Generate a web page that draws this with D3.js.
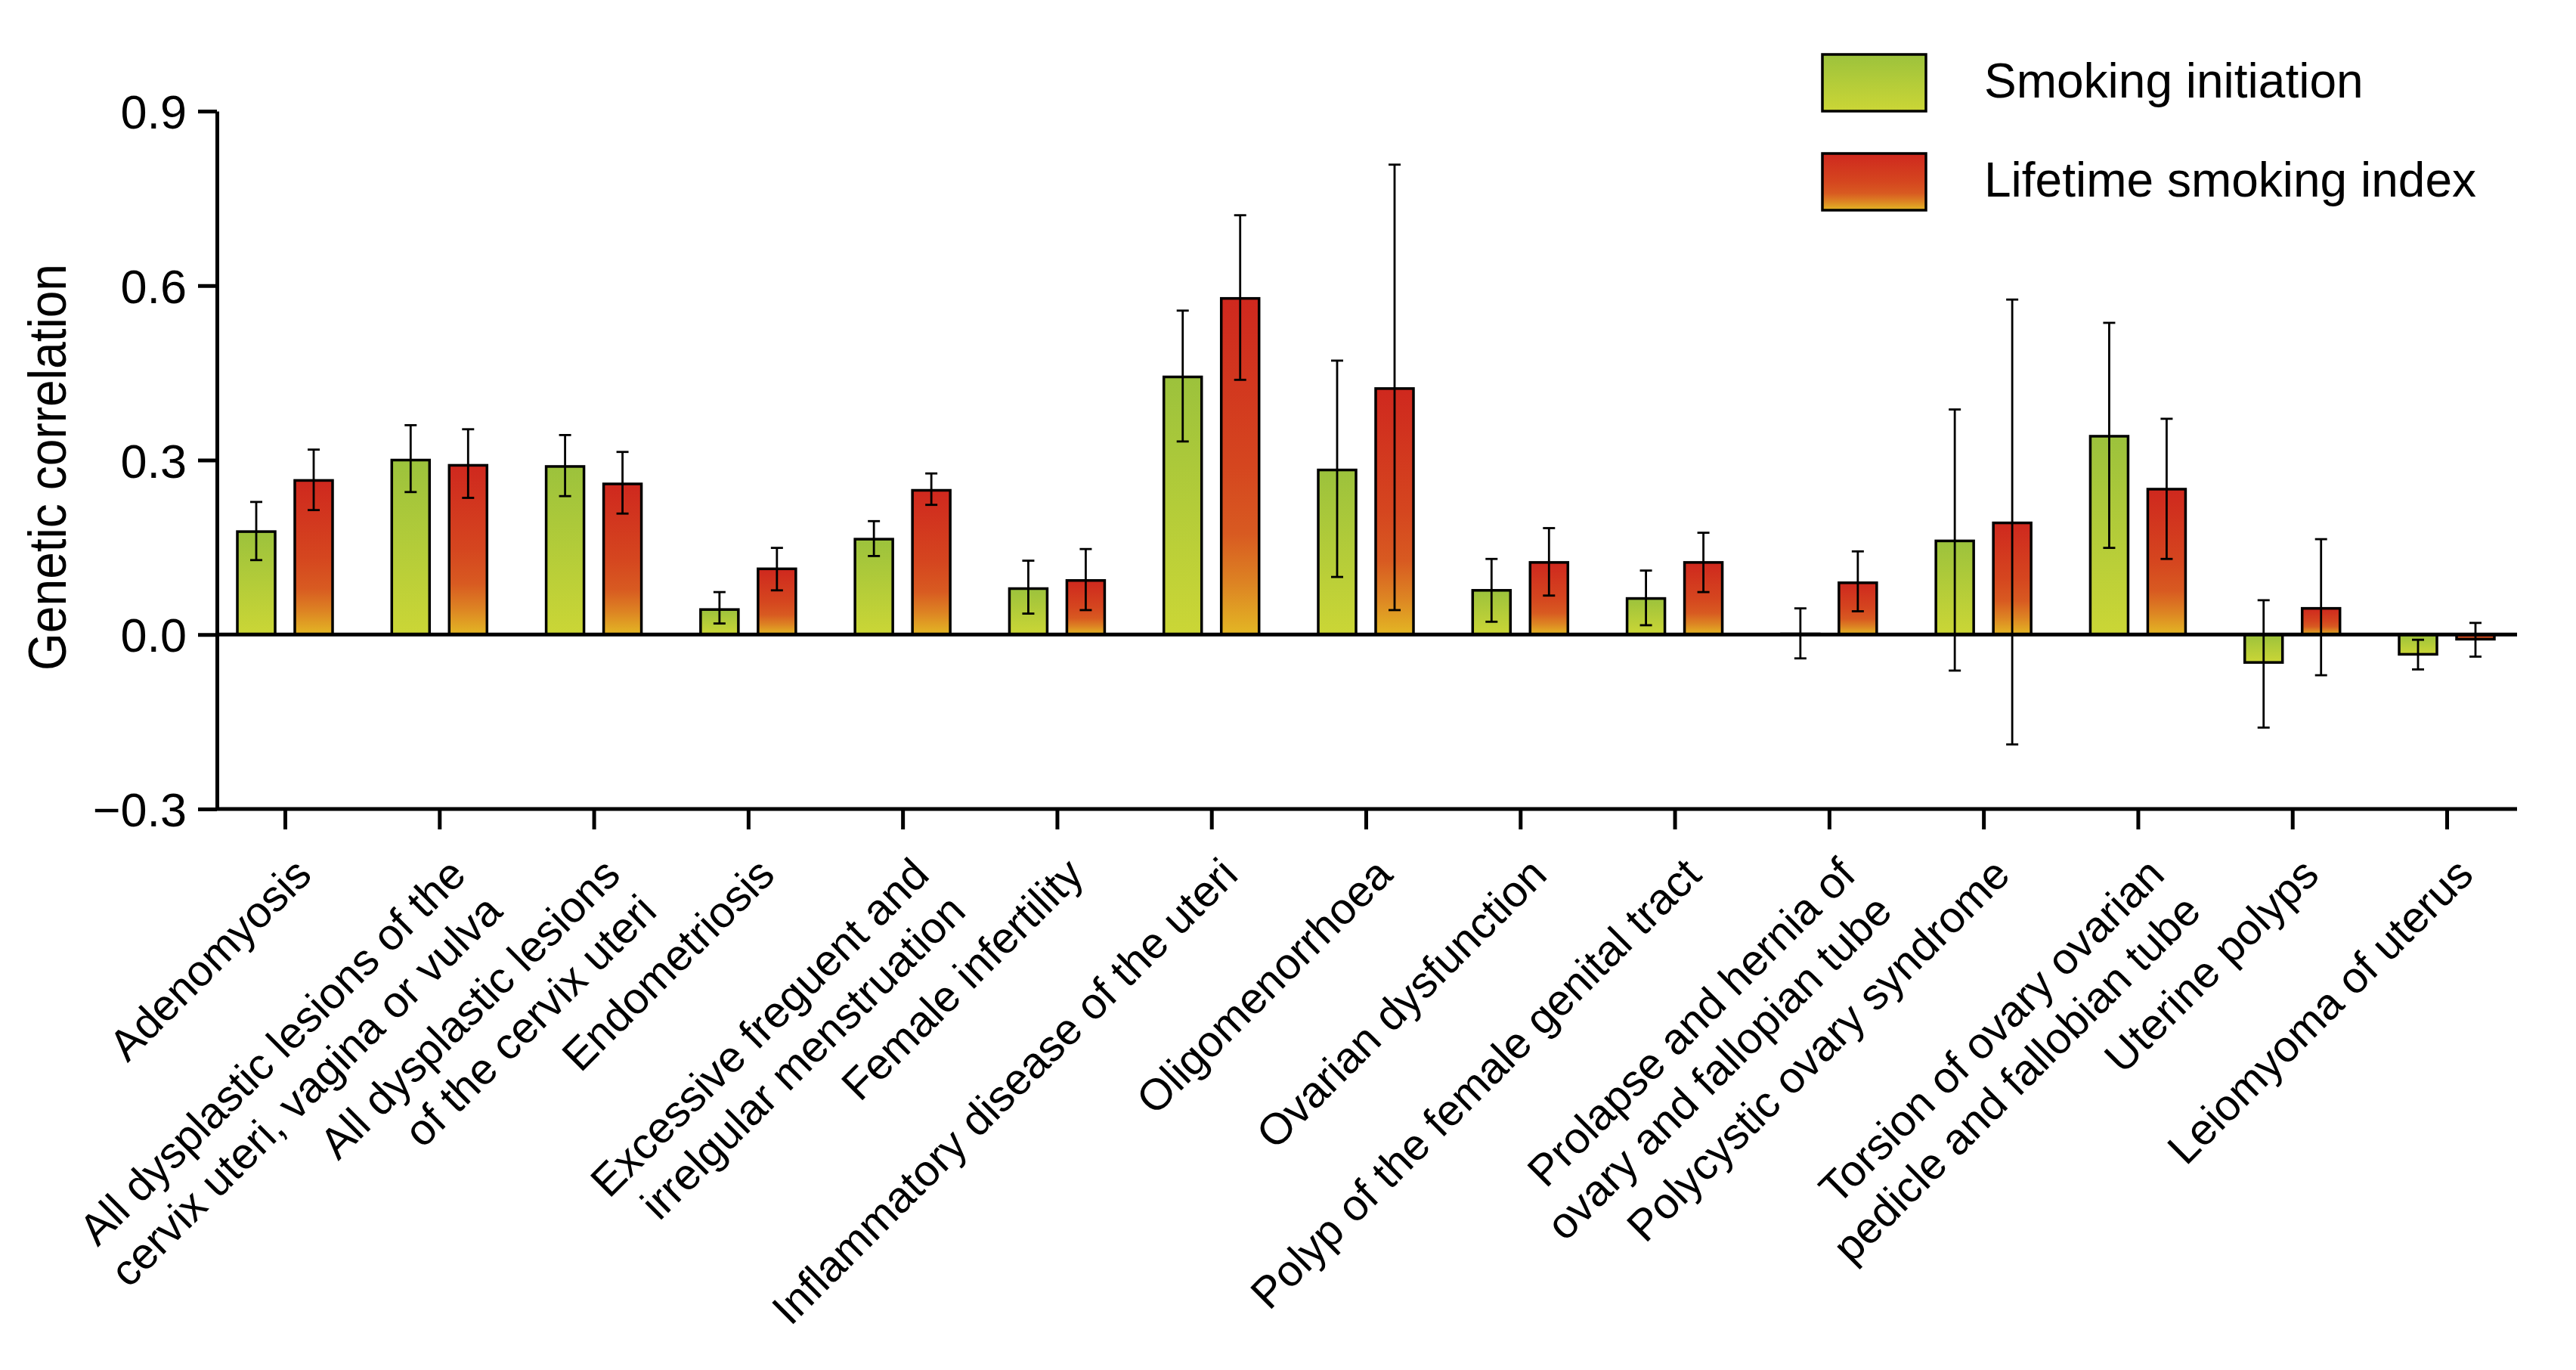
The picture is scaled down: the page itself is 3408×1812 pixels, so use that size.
<!DOCTYPE html>
<html>
<head>
<meta charset="utf-8">
<script src="https://cdn.jsdelivr.net/npm/d3@7"></script>
<style>
    body { margin: 0; background: #fff; }
    text { font-family: "Liberation Sans", Arial, Helvetica, sans-serif; fill: #000; }
</style>
</head>
<body>
<div class="chart"></div>
<script>
// categories, line breaks as in the figure
const categories = [
    "Adenomyosis",
    "All dysplastic lesions of the\ncervix uteri, vagina or vulva",
    "All dysplastic lesions\nof the cervix uteri",
    "Endometriosis",
    "Excessive freguent and\nirrelgular menstruation",
    "Female infertility",
    "Inflammatory disease of the uteri",
    "Oligomenorrhoea",
    "Ovarian dysfunction",
    "Polyp of the female genital tract",
    "Prolapse and hernia of\novary and fallopian tube",
    "Polycystic ovary syndrome",
    "Torsion of ovary ovarian\npedicle and fallobian tube",
    "Uterine polyps",
    "Leiomyoma of uterus"
];

const seriesNames = ["Smoking initiation", "Lifetime smoking index"];

// genetic correlation + error bar ends
const initiation     = [0.177, 0.300, 0.289, 0.043, 0.164, 0.079, 0.443, 0.283, 0.076, 0.062, 0.001, 0.161, 0.341, -0.048, -0.034];
const initiationLow  = [0.128, 0.245, 0.238, 0.019, 0.135, 0.036, 0.332, 0.099, 0.022, 0.016, -0.041, -0.062, 0.149, -0.160, -0.060];
const initiationHigh = [0.228, 0.360, 0.343, 0.073, 0.195, 0.127, 0.557, 0.471, 0.130, 0.110, 0.045, 0.387, 0.536, 0.059, -0.009];

const lifetime     = [0.265, 0.291, 0.259, 0.113, 0.248, 0.093, 0.578, 0.423, 0.124, 0.124, 0.089, 0.192, 0.250, 0.045, -0.008];
const lifetimeLow  = [0.214, 0.235, 0.208, 0.076, 0.223, 0.042, 0.438, 0.042, 0.067, 0.073, 0.040, -0.189, 0.130, -0.070, -0.038];
const lifetimeHigh = [0.318, 0.353, 0.314, 0.149, 0.277, 0.147, 0.721, 0.808, 0.183, 0.175, 0.143, 0.576, 0.371, 0.164, 0.020];

const yTicks = [-0.3, 0, 0.3, 0.6, 0.9];

var width = 3408, height = 1812;
var plotLeft = 287, plotRight = 3330, plotTop = 147, plotBottom = 1070;

var svg = d3.select(".chart").append("svg")
    .attr("width", width).attr("height", height);

// gradients for the two series
var defs = svg.append("defs");
var gradStops = {
    green: [["0%", "#9cc23c"], ["100%", "#cbd636"]],
    red: [["0%", "#cf281e"], ["50%", "#d5461f"], ["70%", "#d85a21"], ["85%", "#dd8423"], ["100%", "#e3b724"]]
};
Object.keys(gradStops).forEach(function(key){
    var g = defs.append("linearGradient").attr("id", "grad-" + key)
        .attr("x1", 0).attr("y1", 0).attr("x2", 0).attr("y2", 1);
    gradStops[key].forEach(function(s){
        g.append("stop").attr("offset", s[0]).attr("stop-color", s[1]);
    });
});
var seriesFill = ["url(#grad-green)", "url(#grad-red)"];

var rows = categories.map(function(c, i){
    return {
        cat: c,
        values: [
            { s: 0, v: initiation[i], lo: initiationLow[i], hi: initiationHigh[i] },
            { s: 1, v: lifetime[i], lo: lifetimeLow[i], hi: lifetimeHigh[i] }
        ]
    };
});

var x = d3.scalePoint().domain(categories).range([plotLeft + 90, plotRight - 93]);
var x1 = d3.scaleBand().domain([0, 1]).range([-63, 63]).paddingInner(0.342);
var y = d3.scaleLinear().domain([-0.3, 0.9]).range([plotBottom, plotTop]);

// y axis
var yAxis = svg.append("g")
    .attr("transform", "translate(" + plotLeft + ",0)")
    .call(d3.axisLeft(y).tickValues(yTicks).tickSize(25).tickSizeOuter(0).tickPadding(15)
        .tickFormat(d3.format(".1f")));
yAxis.select(".domain").attr("stroke-width", 5).attr("stroke", "#000");
yAxis.selectAll(".tick line").attr("stroke-width", 5).attr("stroke", "#000");
yAxis.selectAll(".tick text").style("font-size", "63px")
    .style("font-family", "'Liberation Sans', Arial, sans-serif").attr("dy", "0.36em");

svg.append("text")
    .attr("transform", "translate(87,618) rotate(-90)")
    .attr("text-anchor", "middle")
    .attr("textLength", 538).attr("lengthAdjust", "spacingAndGlyphs")
    .style("font-size", "71px")
    .text("Genetic correlation");

// x axis at the bottom
var xAxis = svg.append("g")
    .attr("transform", "translate(0," + plotBottom + ")")
    .call(d3.axisBottom(x).tickSize(27).tickFormat(""));
xAxis.select(".domain").remove();
xAxis.selectAll(".tick line").attr("stroke-width", 5).attr("stroke", "#000");
svg.append("line")
    .attr("x1", plotLeft).attr("x2", plotRight)
    .attr("y1", y(-0.3)).attr("y2", y(-0.3))
    .attr("stroke", "#000").attr("stroke-width", 5);

// category labels, rotated
var labels = svg.append("g").selectAll("text")
    .data(categories).enter().append("text")
    .attr("text-anchor", "end")
    .attr("transform", function(d){ return "translate(" + (x(d) + 38) + "," + (plotBottom + 90) + ") rotate(-45)"; })
    .style("font-size", "58px");
labels.each(function(d){
    var t = d3.select(this);
    d.split("\n").forEach(function(line, k){
        t.append("tspan").attr("x", 0).attr("y", k * 68).text(line);
    });
});

// bars
var groups = svg.append("g").selectAll("g")
    .data(rows).enter().append("g")
    .attr("transform", function(d){ return "translate(" + x(d.cat) + ",0)"; });

groups.selectAll("rect")
    .data(function(d){ return d.values; })
    .enter().append("rect")
    .attr("x", function(d){ return x1(d.s); })
    .attr("y", function(d){ return y(Math.max(0, d.v)); })
    .attr("width", x1.bandwidth())
    .attr("height", function(d){ return Math.abs(y(d.v) - y(0)); })
    .attr("fill", function(d){ return seriesFill[d.s]; })
    .attr("stroke", "#000").attr("stroke-width", 3.5);

// zero line over the bar bottoms
svg.append("line")
    .attr("x1", plotLeft).attr("x2", plotRight)
    .attr("y1", y(0)).attr("y2", y(0))
    .attr("stroke", "#000").attr("stroke-width", 5);

// error bars
var capW = 8;
var err = groups.selectAll("g.err")
    .data(function(d){ return d.values; })
    .enter().append("g").attr("class", "err")
    .attr("transform", function(d){ return "translate(" + (x1(d.s) + x1.bandwidth() / 2) + ",0)"; })
    .attr("stroke", "#000").attr("stroke-width", 2.8);
err.append("line")
    .attr("x1", 0).attr("x2", 0)
    .attr("y1", function(d){ return y(d.lo); })
    .attr("y2", function(d){ return y(d.hi); });
err.append("line")
    .attr("x1", -capW).attr("x2", capW)
    .attr("y1", function(d){ return y(d.hi); })
    .attr("y2", function(d){ return y(d.hi); });
err.append("line")
    .attr("x1", -capW).attr("x2", capW)
    .attr("y1", function(d){ return y(d.lo); })
    .attr("y2", function(d){ return y(d.lo); });

// legend
var legend = svg.append("g").selectAll("g")
    .data(seriesNames).enter().append("g")
    .attr("transform", function(d, i){ return "translate(2411," + (72 + i * 131) + ")"; });
legend.append("rect")
    .attr("width", 137).attr("height", 75)
    .attr("fill", function(d, i){ return seriesFill[i]; })
    .attr("stroke", "#000").attr("stroke-width", 3.5);
legend.append("text")
    .attr("x", 214).attr("y", 57)
    .style("font-size", "64px")
    .text(function(d){ return d; });
</script>
</body>
</html>
